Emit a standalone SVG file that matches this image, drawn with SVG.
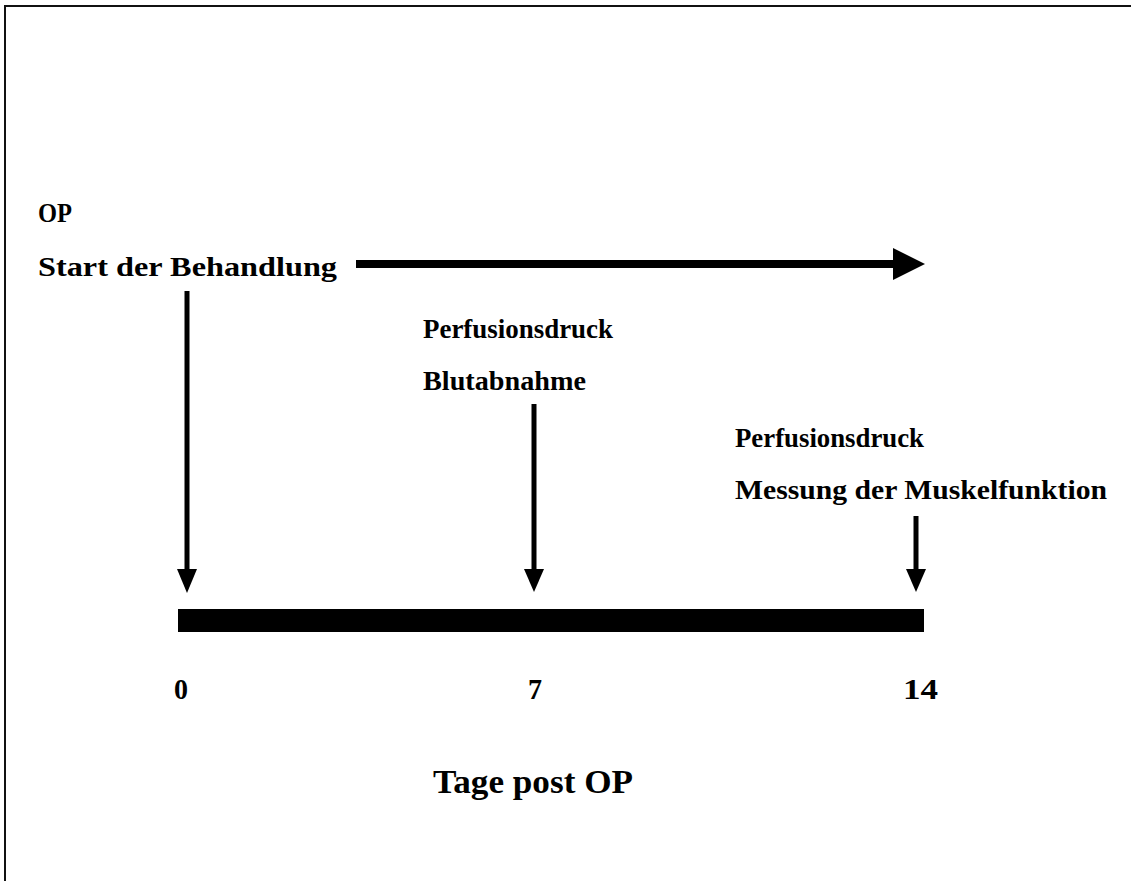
<svg xmlns="http://www.w3.org/2000/svg" width="1131" height="881" viewBox="0 0 1131 881">
<style>
text{font-family:"Liberation Serif","Times New Roman",serif;font-weight:bold;fill:#000}
.lbl{font-size:28px}
.num{font-size:29px}
.ttl{font-size:33px}
.ln{stroke:#000;stroke-width:5;fill:none}
</style>
<rect x="0" y="0" width="1131" height="881" fill="#fff"/>
<rect x="5" y="6" width="1140" height="890" fill="none" stroke="#111" stroke-width="2"/>
<g id="timeline">
<rect x="178" y="609" width="746" height="23" fill="#000"/>
</g>
<g id="connectors">
<line x1="356" y1="264" x2="893" y2="264" stroke="#000" stroke-width="8"/>
<polygon points="893,248 925,264 893,280" fill="#000"/>
<line class="ln" x1="187" y1="291" x2="187" y2="570"/>
<polygon points="177,569 197,569 187,593" fill="#000"/>
<line class="ln" x1="534" y1="404" x2="534" y2="570"/>
<polygon points="524,569 544,569 534,592" fill="#000"/>
<line class="ln" x1="916" y1="516" x2="916" y2="570"/>
<polygon points="906,569 926,569 916,592" fill="#000"/>
</g>
<g id="node-start">
<text class="lbl" x="38" y="222" textLength="34" lengthAdjust="spacingAndGlyphs">OP</text>
<text class="lbl" x="38" y="276" textLength="299" lengthAdjust="spacingAndGlyphs">Start der Behandlung</text>
</g>
<g id="node-day7">
<text class="lbl" x="423" y="338" textLength="190" lengthAdjust="spacingAndGlyphs">Perfusionsdruck</text>
<text class="lbl" x="423" y="390" textLength="163" lengthAdjust="spacingAndGlyphs">Blutabnahme</text>
</g>
<g id="node-day14">
<text class="lbl" x="735" y="447" textLength="189" lengthAdjust="spacingAndGlyphs">Perfusionsdruck</text>
<text class="lbl" x="735" y="499" textLength="372" lengthAdjust="spacingAndGlyphs">Messung der Muskelfunktion</text>
</g>
<g id="axis-labels">
<text class="num" x="174" y="699" textLength="14" lengthAdjust="spacingAndGlyphs">0</text>
<text class="num" x="528" y="699" textLength="14" lengthAdjust="spacingAndGlyphs">7</text>
<text class="num" x="903" y="699" textLength="35" lengthAdjust="spacingAndGlyphs">14</text>
<text class="ttl" x="433" y="793" textLength="200" lengthAdjust="spacingAndGlyphs">Tage post OP</text>
</g>
</svg>
